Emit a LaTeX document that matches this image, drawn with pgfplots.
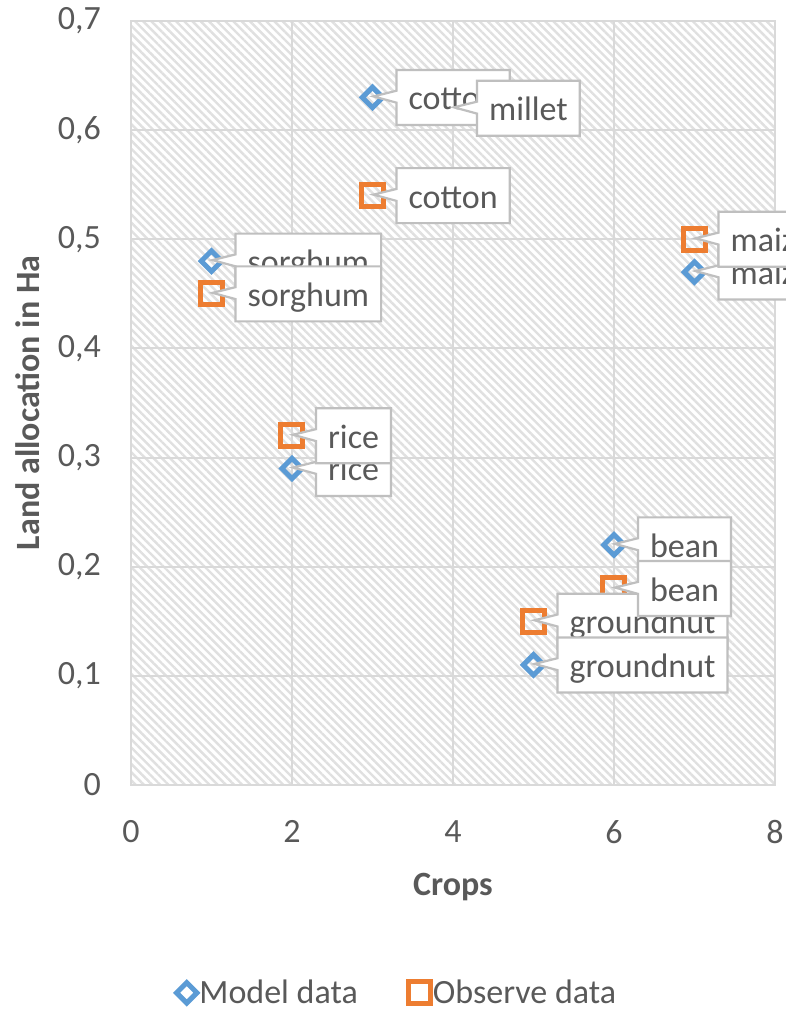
\documentclass[border=0pt]{standalone}
\usepackage{pgfplots}
\pgfplotsset{compat=1.18}
\usepackage{fontspec}
\setmainfont{Carlito}
\usetikzlibrary{patterns.meta,shapes.callouts}

\definecolor{modelblue}{HTML}{5B9BD5}
\definecolor{obsorange}{HTML}{ED7D31}
\definecolor{txtgray}{HTML}{595959}
\definecolor{gridgray}{HTML}{D9D9D9}
\definecolor{boxgray}{HTML}{BFBFBF}
\definecolor{hatchgray}{HTML}{E0E0E0}

\newcommand{\chartfont}{\fontsize{34}{40}\selectfont}

\pgfplotsset{
  croplabel/.style={
    only marks, mark=none, forget plot,
    point meta=explicit symbolic,
    nodes near coords,
    every node near coord/.style={
      rectangle callout, callout absolute pointer={(1pt,1pt)},
      callout pointer width=12pt,
      draw=boxgray, line width=2.2pt, fill=white, text=txtgray,
      font=\chartfont,
      inner xsep=12pt, inner ysep=8pt, text height=32pt, text depth=7pt,
      anchor=west, xshift=23pt,
    },
  },
  modelmark/.style={only marks, mark=square, line width=5pt, draw=modelblue,
    mark options={rotate=45, draw=modelblue, fill=white, line width=5pt}, mark size=7.2pt},
  obsmark/.style={only marks, mark=square, line width=5pt, draw=obsorange,
    mark options={draw=obsorange, fill=white, line width=5pt}, mark size=11pt},
}

\begin{document}
\begin{tikzpicture}
\path[use as bounding box, clip] (-131pt,-225pt) rectangle (655pt,785pt);
\begin{axis}[
  at={(0pt,0pt)}, anchor=south west,
  scale only axis, width=644pt, height=764pt,
  clip=false,
  xmin=0, xmax=8, ymin=0, ymax=0.7,
  xtick={0,2,4,6,8},
  ytick={0,0.1,0.2,0.3,0.4,0.5,0.6,0.7},
  axis background/.style={fill=white, postaction={pattern={Lines[angle=-45,distance=5.8pt,line width=2.4pt]}, pattern color=hatchgray}},
  grid=major, major grid style={draw=gridgray, line width=2pt},
  axis line style={draw=gridgray, line width=2pt},
  major tick length=0pt, tick style={draw=none},
  ticklabel style={font=\chartfont, text=txtgray},
  /pgf/number format/assume math mode=true,
  /pgf/number format/use comma,
  /pgf/number format/fixed,
  /pgf/number format/precision=1,
  yticklabel style={inner sep=0pt, anchor=east, xshift=-30pt},
  xticklabel style={inner sep=0pt, anchor=north, yshift=-35pt},
  xlabel={Crops}, ylabel={Land allocation in Ha},
  every axis x label/.style={at={(axis description cs:0.5,-0.1335)}, anchor=center,
    font=\bfseries\chartfont, text=txtgray},
  every axis y label/.style={at={(axis description cs:-0.16,0.5)}, anchor=center, rotate=90,
    font=\bfseries\chartfont, text=txtgray},
  legend style={at={(axis description cs:0.414,-0.272)}, anchor=center, draw=none, fill=none,
    legend columns=2, font=\chartfont, text=txtgray,
    /tikz/every even column/.append style={column sep=48pt},
    nodes={inner xsep=2.5pt, inner ysep=0pt}},
  legend image code/.code={\draw[#1] plot coordinates {(0pt,0pt)};},
]
% markers
\addplot[modelmark] coordinates {(1,0.48) (2,0.29) (3,0.63) (4,0.62) (5,0.11) (6,0.22) (7,0.47)};
\addlegendentry{Model data}
\addplot[obsmark] coordinates {(1,0.45) (2,0.32) (3,0.54) (5,0.15) (6,0.18) (7,0.50)};
\addlegendentry{Observe data}
% data labels
\addplot[croplabel] coordinates {(1,0.48) [sorghum] (2,0.29) [rice] (3,0.63) [cotton] (4,0.62) [millet] (6,0.22) [bean] (7,0.47) [maize]};
\addplot[croplabel] coordinates {(1,0.45) [sorghum] (2,0.32) [rice] (3,0.54) [cotton] (5,0.15) [groundnut] (6,0.18) [bean] (7,0.50) [maize]};
\addplot[croplabel] coordinates {(5,0.11) [groundnut]};
\end{axis}
\end{tikzpicture}
\end{document}
